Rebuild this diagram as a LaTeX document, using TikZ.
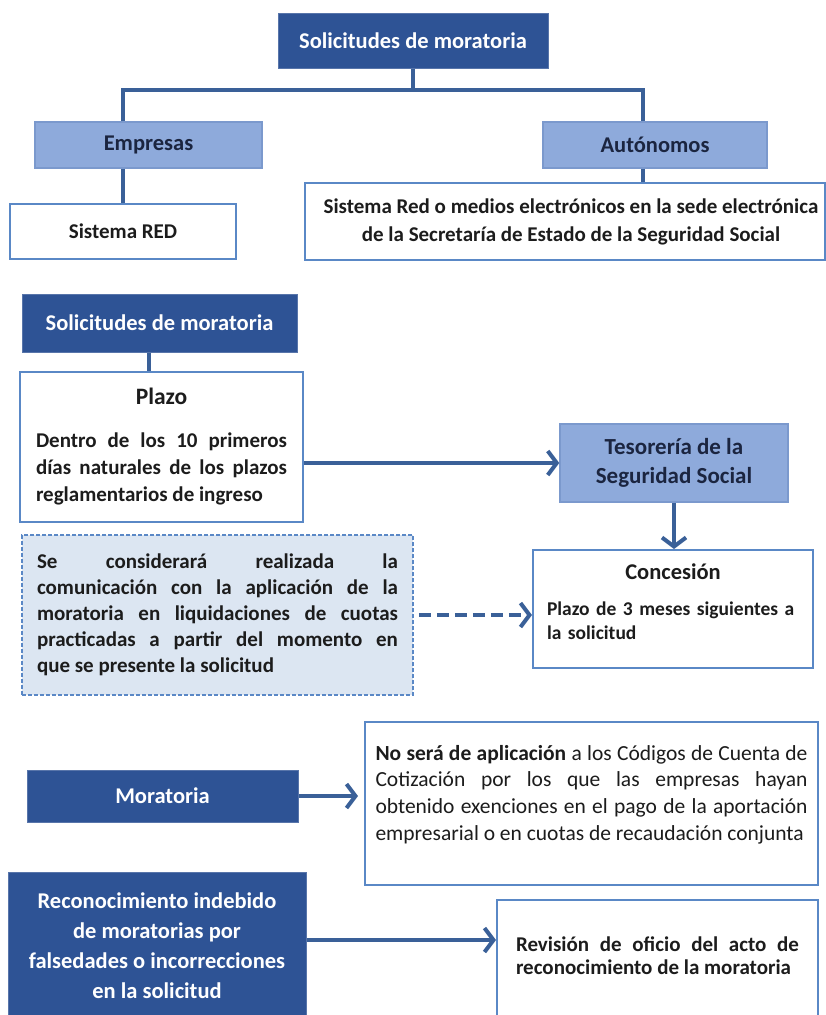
\documentclass[tikz,border=0pt]{standalone}
\usepackage{fontspec}
\setmainfont{Carlito}
\usetikzlibrary{arrows.meta}
\definecolor{dk}{HTML}{2E5395}
\definecolor{lt}{HTML}{8EAADB}
\definecolor{ln}{HTML}{3A6098}
\definecolor{bd}{HTML}{5A88C6}
\definecolor{dashfill}{HTML}{DCE6F2}
\definecolor{txt}{HTML}{1C1C1C}
\definecolor{navytxt}{HTML}{1B2540}
\begin{document}
\begin{tikzpicture}[x=1pt,y=-1pt,
  darkbox/.style={fill=dk, draw=dk!80!white, line width=1pt, text=white, inner sep=0pt, align=center},
  lightbox/.style={fill=lt, draw=lt!80!dk, line width=1.5pt, text=navytxt, inner sep=0pt, align=center},
  whitebox/.style={fill=white, draw=bd, line width=2pt, text=txt, inner sep=0pt},
  dashbox/.style={fill=dashfill, draw=bd, line width=1.5pt, dash pattern=on 4pt off 2pt, text=txt, inner sep=0pt},
  ttl/.style={font=\bfseries\fontsize{22.5}{29}\selectfont},
  conn/.style={draw=ln, line width=4pt},
  arr/.style={conn, -{Straight Barb[length=9pt,width=24pt]}},
]
\useasboundingbox (0,0) rectangle (825,1015);

% top
\node[darkbox, ttl, minimum width=270pt, minimum height=55pt] (t1) at (413,40.5) {Solicitudes de moratoria};
\node[lightbox, ttl, minimum width=227pt, minimum height=46pt] (emp) at (148.5,145) {Empresas};
\node[lightbox, ttl, minimum width=224pt, minimum height=46pt] (aut) at (655,145) {Autónomos};
\node[whitebox, font=\bfseries\fontsize{21}{27}\selectfont, align=center, minimum width=226pt, minimum height=55pt] (red) at (123,231.5) {Sistema RED};
\node[whitebox, font=\bfseries\fontsize{21}{28}\selectfont, align=center, minimum width=520pt, minimum height=77pt] (sred) at (565,221.5) {\hspace*{12pt}Sistema Red o medios electrónicos en la sede electrónica\\\hspace*{12pt}de la Secretaría de Estado de la Seguridad Social};

\coordinate (jL) at (123,90);
\coordinate (jR) at (643,90);
\draw[conn] (t1.south) -- (t1.south |- jL);
\draw[conn, line join=miter] (jL |- emp.north) -- (jL) -- (jR) -- (jR |- aut.north);
\draw[conn] (jL |- emp.south) -- (red.north);
\draw[conn] (jR |- aut.south) -- (jR |- sred.north);

% middle
\node[darkbox, ttl, minimum width=275pt, minimum height=58pt] (s2) at (159.5,323) {Solicitudes de moratoria};
\node[whitebox, minimum width=283pt, minimum height=150pt, text width=251pt, align=justify, font=\bfseries\fontsize{21}{27}\selectfont] (plazo) at (161.5,447)
  {{\centering\fontsize{23.5}{27}\selectfont Plazo\par}\vspace{16pt}Dentro de los 10 primeros\linebreak días naturales de los plazos\linebreak reglamentarios de ingreso};
\draw[conn] ([xshift=-11pt]s2.south) -- ([xshift=-11pt]s2.south |- plazo.north);

\node[lightbox, font=\bfseries\fontsize{23}{29}\selectfont, minimum width=228pt, minimum height=78pt] (tes) at (674,463) {Tesorería de la\\Seguridad Social};
\draw[arr] (plazo.east |- tes.west) -- (tes.west);

\node[whitebox, minimum width=280pt, minimum height=118pt, text width=252pt, align=left, font=\bfseries\fontsize{19.5}{24}\selectfont] (conc) at (673,609)
  {{\centering\fontsize{22.5}{26}\selectfont Concesión\par}\vspace{12pt}Plazo de 3 meses siguientes a\\la solicitud\par\vspace*{14pt}};
\draw[arr] (tes.south) -- (tes.south |- conc.north);

\node[dashbox, minimum width=391pt, minimum height=160pt, text width=361pt, align=justify, font=\bfseries\fontsize{21}{26}\selectfont] (dsh) at (217.5,615)
  {Se considerará realizada la\linebreak comunicación con la aplicación de la\linebreak moratoria en liquidaciones de cuotas\linebreak practicadas a partir del momento en\linebreak que se presente la solicitud};
\draw[arr, dash pattern=on 12pt off 6pt] ([xshift=5pt]dsh.east) -- (dsh.east -| conc.west);

% bottom
\node[darkbox, ttl, minimum width=271pt, minimum height=52pt] (mor) at (162.5,796) {Moratoria};
\node[whitebox, minimum width=453pt, minimum height=163pt, text width=432pt, align=justify, font=\fontsize{21.5}{26.7}\selectfont] (nos) at (591.5,803.5)
  {\textbf{No será de aplicación} a los Códigos de Cuenta de\linebreak Cotización por los que las empresas hayan\linebreak obtenido exenciones en el pago de la aportación\linebreak empresarial o en cuotas de recaudación conjunta\par\vspace*{18pt}};
\draw[arr, shorten >=6pt] (mor.east) -- (mor.east -| nos.west);

\node[darkbox, font=\bfseries\fontsize{22.5}{30}\selectfont, minimum width=298pt, minimum height=148pt] (rec) at (157,946) {Reconocimiento indebido\\de moratorias por\\falsedades o incorrecciones\\en la solicitud};
\node[whitebox, minimum width=321pt, minimum height=118pt, text width=283pt, align=justify, font=\bfseries\fontsize{21}{23}\selectfont] (rev) at (657.5,959)
  {Revisión de oficio del acto de\linebreak reconocimiento de la moratoria\par\vspace*{6pt}};
\draw[arr] ([yshift=6pt]rec.east) -- ([yshift=6pt]rec.east -| rev.west);
\end{tikzpicture}
\end{document}
